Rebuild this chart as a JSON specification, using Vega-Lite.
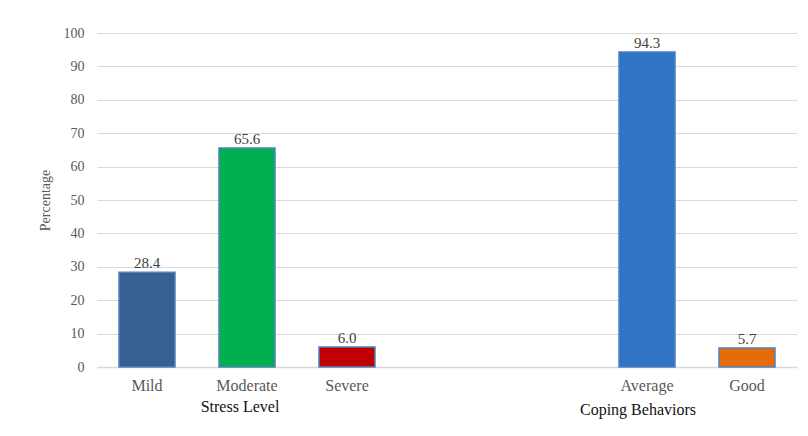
{
  "$schema": "https://vega.github.io/schema/vega-lite/v6.json",
  "autosize": {"type": "none"},
  "padding": {"left": 97, "top": 33, "right": 11, "bottom": 69},
  "width": 700,
  "height": 334,
  "background": "white",
  "config": {
    "view": {"stroke": null},
    "font": "Liberation Serif"
  },
  "datasets": {
    "bars": [
      {"category": "Mild", "value": 28.4, "label": "28.4", "color": "#376092"},
      {"category": "Moderate", "value": 65.6, "label": "65.6", "color": "#00B050"},
      {"category": "Severe", "value": 6.0, "label": "6.0", "color": "#C00000"},
      {"category": "Average", "value": 94.3, "label": "94.3", "color": "#3173C5"},
      {"category": "Good", "value": 5.7, "label": "5.7", "color": "#E46C0A"}
    ],
    "groups": [
      {"category": "Moderate", "group": "Stress Level", "value": 0},
      {"category": "Average", "group": "Coping Behaviors", "value": 0}
    ]
  },
  "encoding": {
    "x": {
      "field": "category",
      "type": "nominal",
      "scale": {
        "domain": ["Mild", "Moderate", "Severe", "gap1", "gap2", "Average", "Good"],
        "paddingInner": 0.44,
        "paddingOuter": 0.22
      },
      "sort": null,
      "axis": {
        "title": null,
        "labelAngle": 0,
        "labelExpr": "indexof(datum.value, 'gap') === 0 ? '' : datum.value",
        "labelFont": "Liberation Serif",
        "labelFontSize": 16,
        "labelColor": "#595959",
        "labelPadding": 10,
        "ticks": false,
        "domainColor": "#D9D9D9",
        "domainWidth": 1.5
      }
    },
    "y": {
      "field": "value",
      "type": "quantitative",
      "scale": {"domain": [0, 100]},
      "axis": {
        "title": "Percentage",
        "titleFont": "Liberation Serif",
        "titleFontSize": 14,
        "titleFontWeight": "normal",
        "titleColor": "#595959",
        "titlePadding": 11,
        "values": [0, 10, 20, 30, 40, 50, 60, 70, 80, 90, 100],
        "labelOverlap": false,
        "labelFont": "Liberation Serif",
        "labelFontSize": 14,
        "labelColor": "#595959",
        "labelPadding": 13,
        "ticks": false,
        "domain": false,
        "gridColor": "#D9D9D9",
        "gridWidth": 1.2
      }
    }
  },
  "layer": [
    {
      "data": {"name": "bars"},
      "mark": {"type": "bar", "stroke": "#4F81BD", "strokeWidth": 1.5},
      "encoding": {
        "color": {"field": "color", "type": "nominal", "scale": null, "legend": null}
      }
    },
    {
      "data": {"name": "bars"},
      "mark": {"type": "text", "baseline": "bottom", "dy": -1, "font": "Liberation Serif", "fontSize": 15, "color": "#404040"},
      "encoding": {
        "text": {"field": "label"}
      }
    },
    {
      "data": {"name": "groups"},
      "transform": [{"filter": "datum.group === 'Stress Level'"}],
      "mark": {"type": "text", "baseline": "middle", "dy": 40, "dx": -7, "font": "Liberation Serif", "fontSize": 16, "color": "#111111"},
      "encoding": {
        "text": {"field": "group"}
      }
    },
    {
      "data": {"name": "groups"},
      "transform": [{"filter": "datum.group === 'Coping Behaviors'"}],
      "mark": {"type": "text", "baseline": "middle", "dy": 43, "dx": -9, "font": "Liberation Serif", "fontSize": 16, "color": "#111111"},
      "encoding": {
        "text": {"field": "group"}
      }
    }
  ]
}
